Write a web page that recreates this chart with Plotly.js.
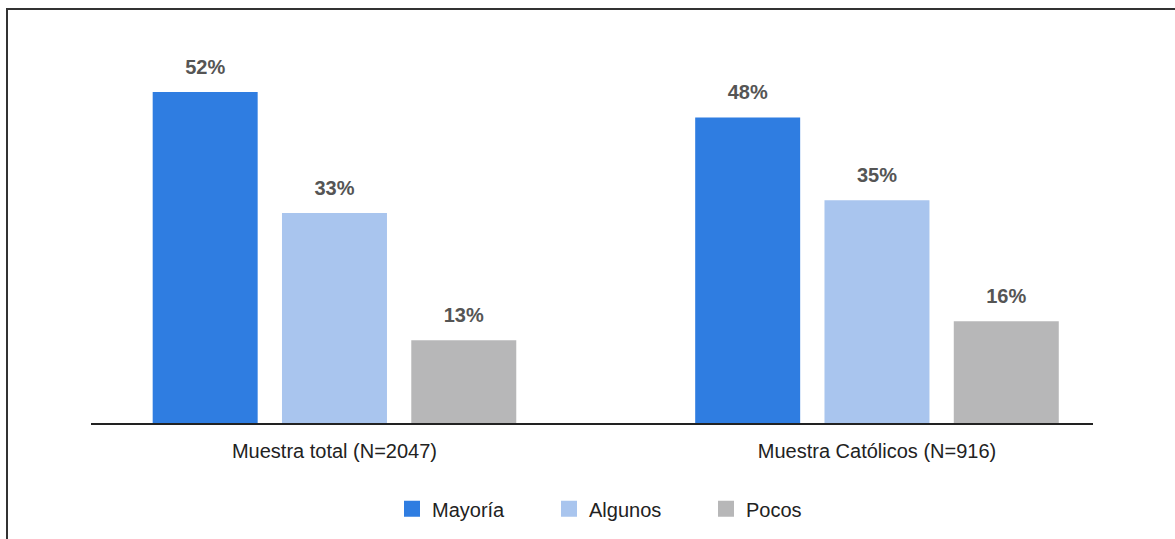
<!DOCTYPE html>
<html>
<head>
<meta charset="utf-8">
<script src="https://cdn.plot.ly/plotly-3.0.1.min.js"></script>
<style>
  html, body { margin: 0; padding: 0; background: #fff; }
  #wrap { position: relative; width: 1175px; height: 539px; overflow: hidden; }
  #chart { position: absolute; left: 0; top: 0; width: 1175px; height: 539px; }
  #frame { position: absolute; left: 6px; top: 8px; right: -10px; bottom: -10px;
           border-left: 2px solid #333; border-top: 2px solid #333; pointer-events: none; }
</style>
</head>
<body>
<div id="wrap">
  <div id="chart"></div>
  <div id="frame"></div>
</div>
<script>
const categories = ["Muestra total (N=2047)", "Muestra Católicos (N=916)"];
const seriesNames = ["Mayoría", "Algunos", "Pocos"];
const mayoria = [52, 48];
const algunos = [33, 35];
const pocos = [13, 16];
const seriesValues = [mayoria, algunos, pocos];
const colors = ["#2F7DE1", "#A9C5EE", "#B7B7B8"];

const BARGAP = 0.285;
const GROUPGAP = 0.188;
const FONT = "Liberation Sans, Arial, sans-serif";

const traces = [];
seriesValues.forEach((vals, i) => {
  traces.push({
    type: "bar",
    name: seriesNames[i],
    x: categories,
    y: vals,
    marker: { color: colors[i], line: { width: 0 } },
    offsetgroup: String(i),
    showlegend: false,
    hoverinfo: "skip"
  });
});
seriesValues.forEach((vals, i) => {
  traces.push({
    type: "scatter",
    mode: "markers+text",
    x: categories,
    y: vals,
    text: vals.map(v => v + "%"),
    textposition: "top center",
    textfont: { family: FONT, size: 20, color: "#555555", weight: "bold" },
    marker: { size: 20, opacity: 0, color: colors[i] },
    offsetgroup: String(i),
    showlegend: false,
    hoverinfo: "skip",
    cliponaxis: false
  });
});
// legend entries (square swatches)
seriesNames.forEach((name, i) => {
  traces.push({
    type: "scatter",
    mode: "markers",
    name: name,
    x: [categories[0]],
    y: [null],
    marker: { symbol: "square", size: 16, color: colors[i], line: { width: 0 } },
    offsetgroup: String(i),
    showlegend: true,
    hoverinfo: "skip"
  });
});

const layout = {
  width: 1175,
  height: 539,
  margin: { l: 91, r: 82, t: 40, b: 115 },
  paper_bgcolor: "rgba(0,0,0,0)",
  plot_bgcolor: "rgba(0,0,0,0)",
  barmode: "group",
  bargap: BARGAP,
  bargroupgap: GROUPGAP,
  scattermode: "group",
  scattergap: BARGAP,
  hovermode: false,
  font: { family: FONT, color: "#222" },
  xaxis: {
    type: "category",
    range: [-0.4488, 1.3982],
    showline: true,
    linecolor: "#222",
    linewidth: 2,
    ticks: "",
    ticklabelstandoff: 9,
    tickfont: { size: 20, color: "#222" },
    showgrid: false,
    zeroline: false,
    fixedrange: true
  },
  yaxis: {
    range: [0, 60.19],
    visible: false,
    showgrid: false,
    zeroline: false,
    fixedrange: true
  },
  showlegend: true,
  legend: {
    orientation: "h",
    x: 0.3004,
    xanchor: "left",
    y: -0.221,
    yanchor: "middle",
    font: { size: 20, color: "#222" },
    entrywidth: 112,
    entrywidthmode: "pixels",
    traceorder: "normal"
  }
};

Plotly.newPlot("chart", traces, layout, { displayModeBar: false, staticPlot: true });
</script>
</body>
</html>
